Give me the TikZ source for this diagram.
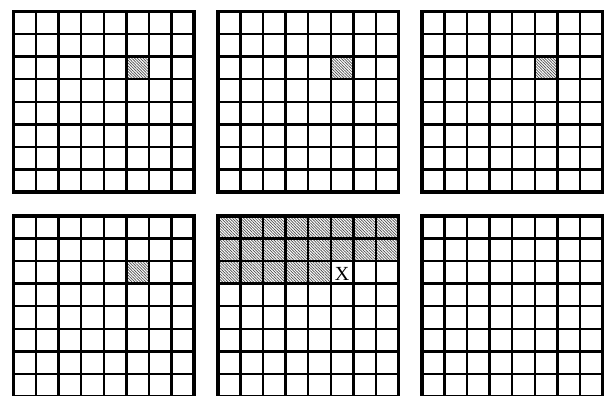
\documentclass[tikz,border=0pt]{standalone}
\usepackage{fontspec}
\setmainfont{Liberation Serif}
\usetikzlibrary{patterns.meta}
\tikzset{
  outerline/.style={line width=3.6pt},
  innerline/.style={line width=2.4pt},
  hatched/.style={pattern={Lines[angle=-45,distance=2pt,line width=0.7pt]},pattern color=black!70},
}
\def\cs{22.5625}
\def\gs{180.5}
\begin{document}
\begin{tikzpicture}[x=1pt,y=-1pt]
\useasboundingbox (0,0) rectangle (605,396);
\clip (0,0) rectangle (605,396);
% single shaded cells
\foreach \gx/\gy in {13.5/11.5, 218/11.5, 422/11.5, 13.5/216} {
  \fill[hatched] (\gx+5*\cs,\gy+2*\cs) rectangle ++(\cs,\cs);
}
% shaded region of grid 5
\fill[hatched] (218,216) rectangle ++(8*\cs,2*\cs);
\fill[hatched] (218,216+2*\cs) rectangle ++(5*\cs,\cs);
% grids
\foreach \gx/\gy in {13.5/11.5, 218/11.5, 422/11.5, 13.5/216, 218/216, 422/216} {
  \foreach \i in {1,...,7} {
    \draw[innerline] (\gx+\i*\cs,\gy) -- ++(0,\gs);
    \draw[innerline] (\gx,\gy+\i*\cs) -- ++(\gs,0);
  }
  \draw[outerline] (\gx,\gy) rectangle ++(\gs,\gs);
}
\node (xmark) at (218+5.5*\cs,216+2.5*\cs+1.5) {\fontsize{20}{20}\selectfont X};
\end{tikzpicture}
\end{document}
